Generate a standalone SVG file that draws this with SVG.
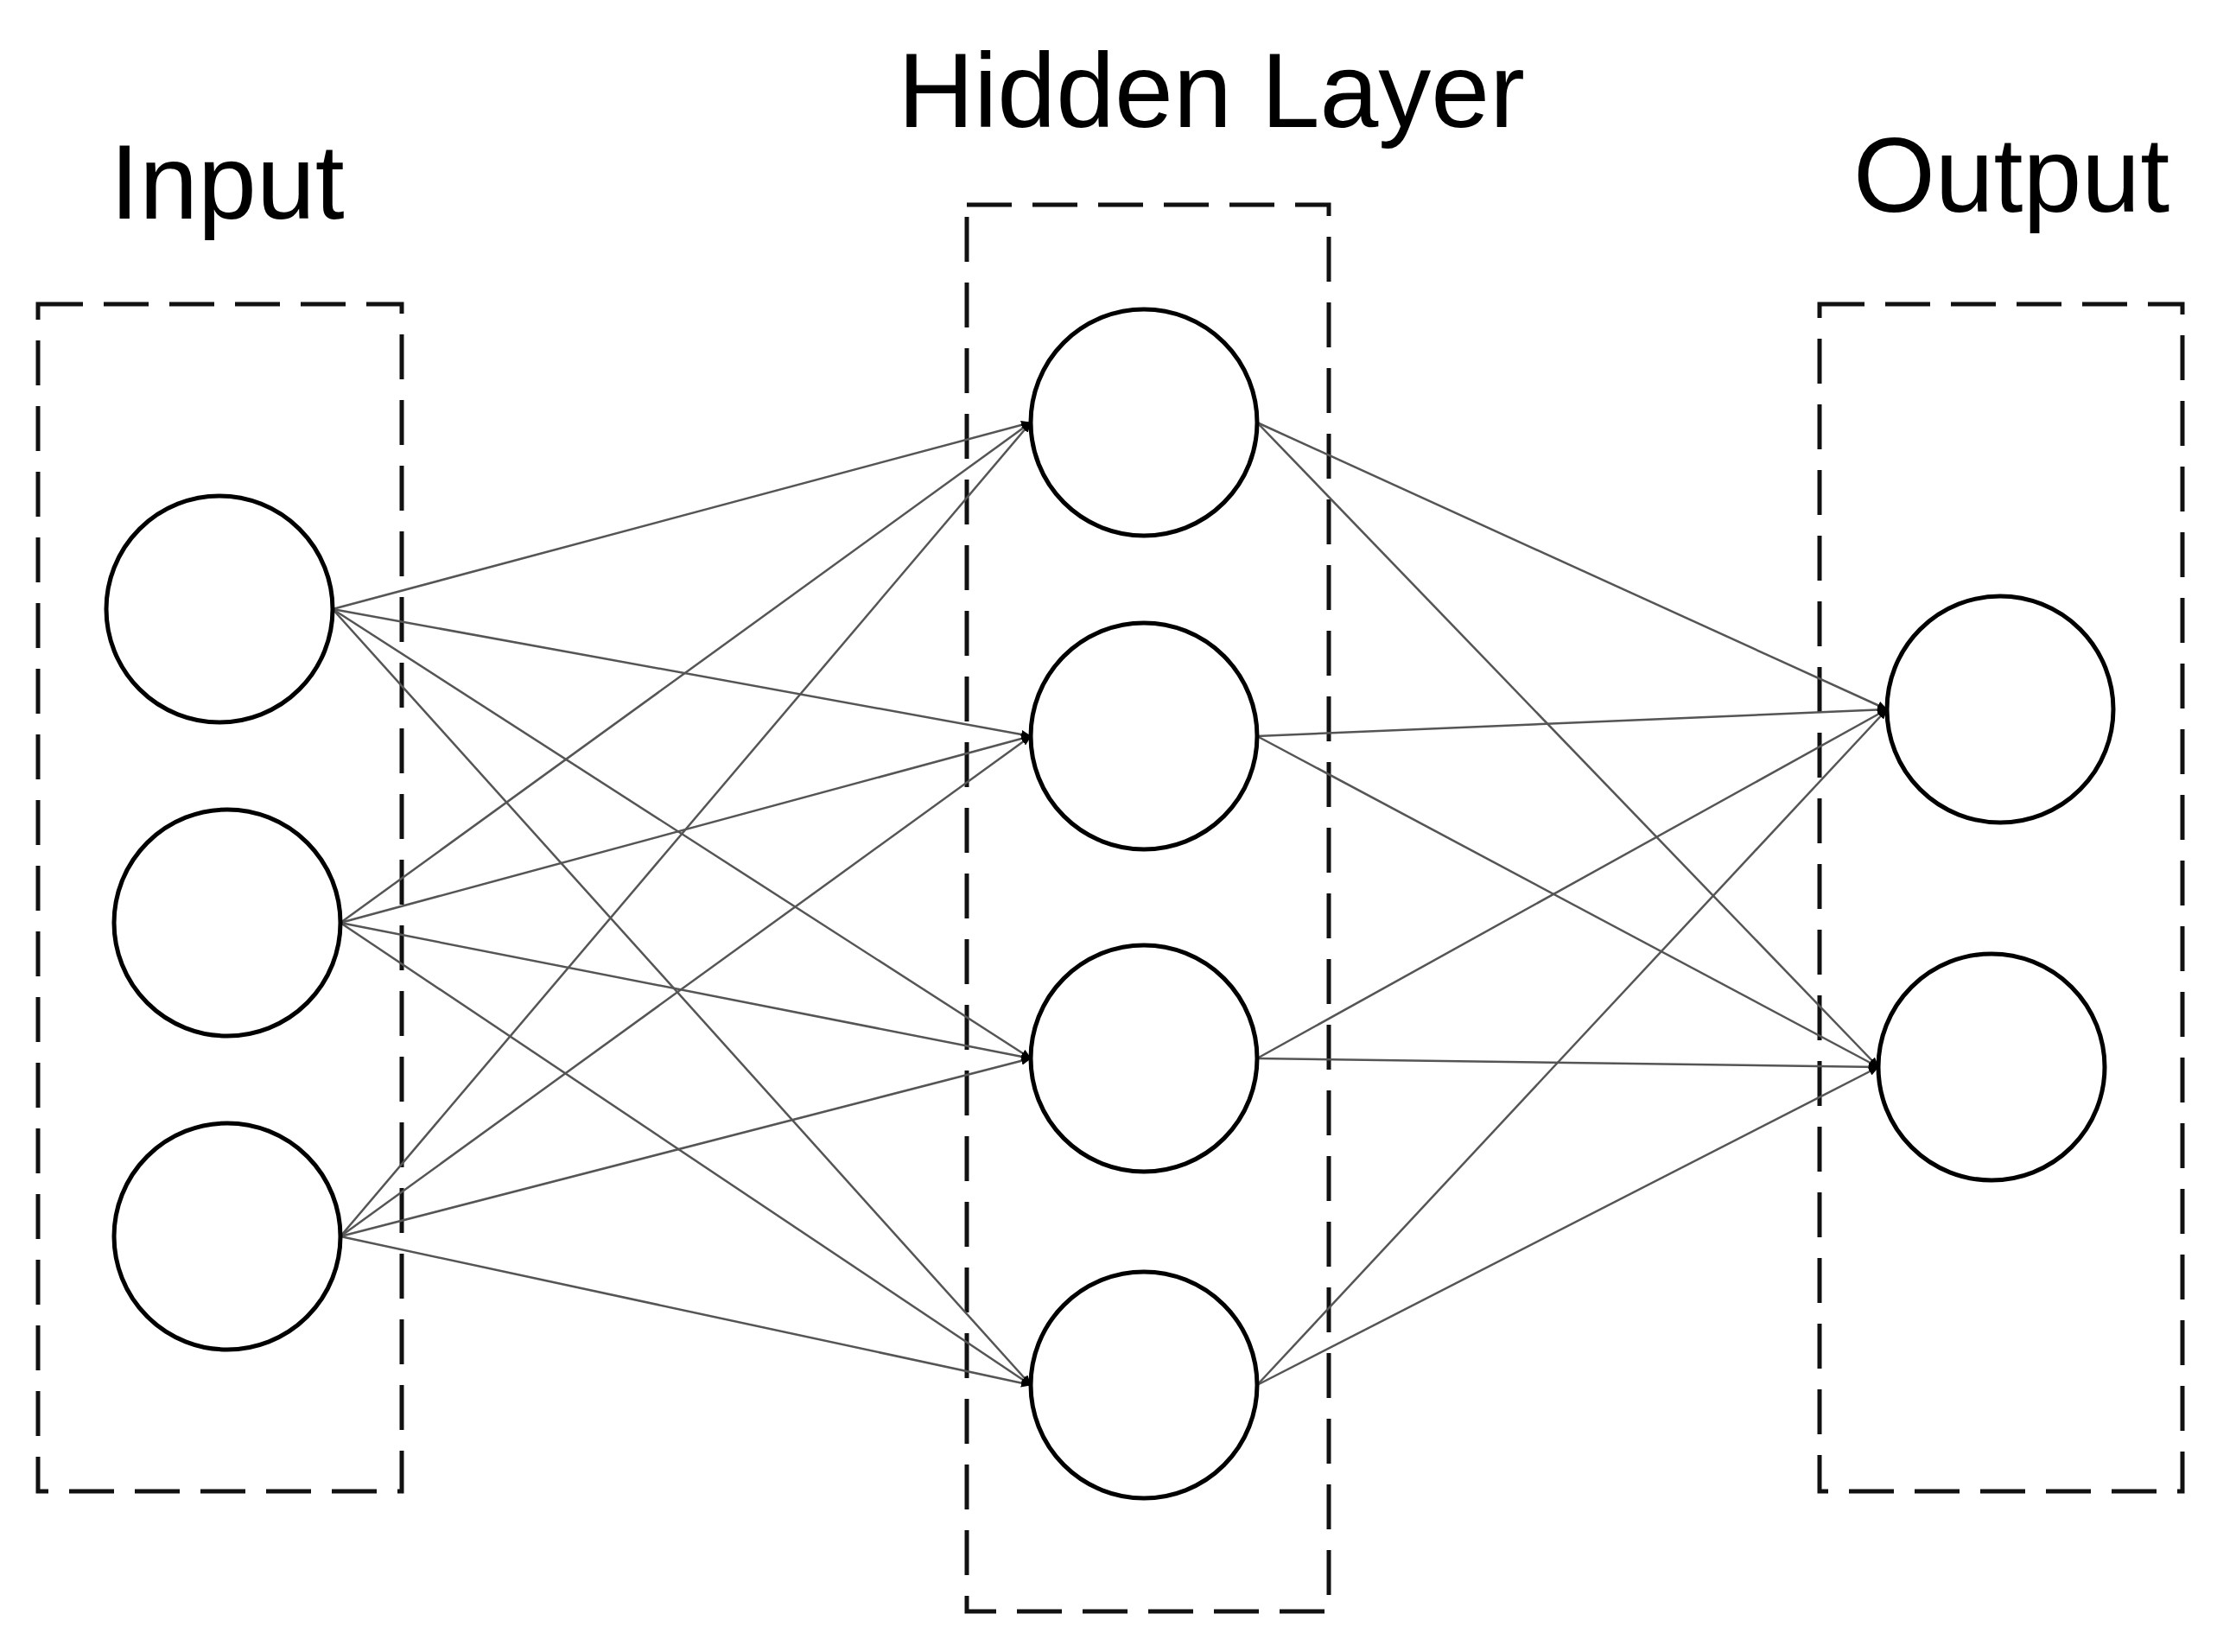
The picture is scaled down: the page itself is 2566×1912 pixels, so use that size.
<svg xmlns="http://www.w3.org/2000/svg" width="2566" height="1912" viewBox="0 0 2566 1912">
<style>
.box{fill:none;stroke:#111;stroke-width:5;stroke-dasharray:52 24}
.n{fill:#fff;stroke:#000;stroke-width:5}
.e{stroke:#555;stroke-width:2.5;fill:none;marker-end:url(#a)}
text{font-family:"Liberation Sans",Arial,sans-serif;font-size:122px;fill:#000;text-anchor:middle}
</style>
<defs><marker id="a" markerWidth="12" markerHeight="10" refX="11" refY="5" orient="auto" markerUnits="userSpaceOnUse" viewBox="0 0 12 10"><path d="M0,0 L12,5 L0,10 z" fill="#000"/></marker>
<marker id="a" viewBox="0 0 12 10" refX="12" refY="5" markerWidth="36" markerHeight="30" markerUnits="userSpaceOnUse" orient="auto"><path d="M0,0 L12,5 L0,10 z" fill="#000"/></marker></defs>
<rect class="box" x="44" y="352" width="421" height="1374"/>
<rect class="box" x="1119" y="237" width="419" height="1628"/>
<rect class="box" x="2106" y="352" width="420" height="1374"/>
<text x="263" y="253">Input</text>
<text x="1402" y="147">Hidden Layer</text>
<text x="2328" y="245">Output</text>
<g id="connectors">
<path class="e" d="M385,705 L1193,489"/><path class="e" d="M385,705 L1193,852"/><path class="e" d="M385,705 L1193,1225"/><path class="e" d="M385,705 L1193,1603"/>
<path class="e" d="M394,1068 L1193,489"/><path class="e" d="M394,1068 L1193,852"/><path class="e" d="M394,1068 L1193,1225"/><path class="e" d="M394,1068 L1193,1603"/>
<path class="e" d="M394,1431 L1193,489"/><path class="e" d="M394,1431 L1193,852"/><path class="e" d="M394,1431 L1193,1225"/><path class="e" d="M394,1431 L1193,1603"/>
<path class="e" d="M1455,489 L2184,821"/><path class="e" d="M1455,489 L2174,1235"/>
<path class="e" d="M1455,852 L2184,821"/><path class="e" d="M1455,852 L2174,1235"/>
<path class="e" d="M1455,1225 L2184,821"/><path class="e" d="M1455,1225 L2174,1235"/>
<path class="e" d="M1455,1603 L2184,821"/><path class="e" d="M1455,1603 L2174,1235"/>
</g>
<g id="in1"><circle class="n" cx="254" cy="705" r="131"/></g>
<g id="in2"><circle class="n" cx="263" cy="1068" r="131"/></g>
<g id="in3"><circle class="n" cx="263" cy="1431" r="131"/></g>
<g id="h1"><circle class="n" cx="1324" cy="489" r="131"/></g>
<g id="h2"><circle class="n" cx="1324" cy="852" r="131"/></g>
<g id="h3"><circle class="n" cx="1324" cy="1225" r="131"/></g>
<g id="h4"><circle class="n" cx="1324" cy="1603" r="131"/></g>
<g id="o1"><circle class="n" cx="2315" cy="821" r="131"/></g>
<g id="o2"><circle class="n" cx="2305" cy="1235" r="131"/></g>
</svg>
